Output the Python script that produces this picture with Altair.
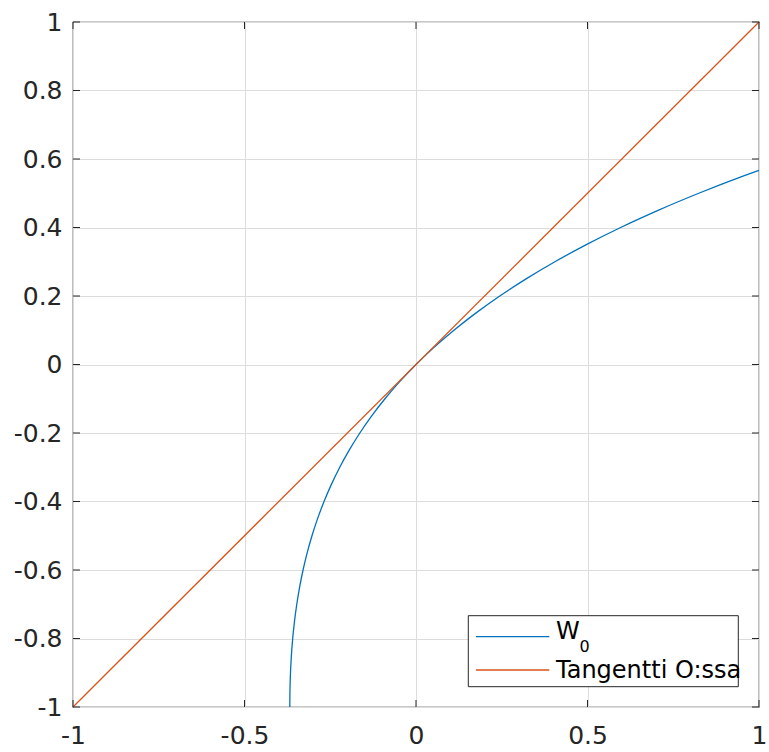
import altair as alt
import pandas as pd

# W0 branch of the Lambert W function
w_x = [-0.36788, -0.36786, -0.36771, -0.36740, -0.36664, -0.36591, -0.36330, -0.35946,
       -0.35427, -0.34761, -0.33933, -0.32929, -0.31732, -0.30327, -0.28693, -0.26813,
       -0.24664, -0.22225, -0.19470, -0.16375, -0.12911, -0.09048, -0.04756, 0.0,
       0.05256, 0.11052, 0.17427, 0.24428, 0.32101, 0.40496, 0.49667, 0.59673,
       0.70574, 0.82436, 0.95329, 1.0]
w_y = [-1.00, -0.99, -0.97, -0.95, -0.92, -0.90, -0.85, -0.80,
       -0.75, -0.70, -0.65, -0.60, -0.55, -0.50, -0.45, -0.40,
       -0.35, -0.30, -0.25, -0.20, -0.15, -0.10, -0.05, 0.0,
       0.05, 0.10, 0.15, 0.20, 0.25, 0.30, 0.35, 0.40,
       0.45, 0.50, 0.55, 0.5671]

# Tangent at origin
t_x = [-1.0, 1.0]
t_y = [-1.0, 1.0]

x_ticks = [-1, -0.5, 0, 0.5, 1]
y_ticks = [-1, -0.8, -0.6, -0.4, -0.2, 0, 0.2, 0.4, 0.6, 0.8, 1]

legend_labels = ["W", "Tangentti O:ssa"]
legend_sub = "0"

W = 686
H = 685
BLUE = "#0072BD"
ORANGE = "#D95319"
AX = "#262626"
FONT = "DejaVu Sans"

lbl = "datum.value == 0 ? '0' : (datum.value < 0 ? '-' : '') + format(abs(datum.value), '.1~f')"

xs = alt.Scale(domain=[-1, 1], nice=False, zero=False)
ys = alt.Scale(domain=[-1, 1], nice=False, zero=False)

xaxis = alt.Axis(values=x_ticks, title=None, ticks=False, domain=False, grid=True,
                 gridColor="#dcdcdc", labelFont=FONT, labelFontSize=25, labelColor=AX,
                 labelPadding=16, labelExpr=lbl, labelFlush=False, labelOverlap=False)
yaxis = alt.Axis(values=y_ticks, title=None, ticks=False, domain=False, grid=True,
                 gridColor="#dcdcdc", labelFont=FONT, labelFontSize=25, labelColor=AX,
                 labelPadding=11, labelExpr=lbl, labelFlush=False, labelOverlap=False)

wdf = pd.DataFrame({"x": w_x, "y": w_y})
tdf = pd.DataFrame({"x": t_x, "y": t_y})

base_axes = alt.Chart(pd.DataFrame({"x": x_ticks})).mark_rule(opacity=0).encode(
    x=alt.X("x:Q", scale=xs, axis=xaxis),
    y=alt.Y("y:Q", scale=ys, axis=yaxis),
).transform_calculate(y="0")

wline = alt.Chart(wdf).mark_line(color=BLUE, strokeWidth=1.3, interpolate="monotone").encode(
    x=alt.X("x:Q", scale=xs), y=alt.Y("y:Q", scale=ys), order="x:Q")
tline = alt.Chart(tdf).mark_line(color=ORANGE, strokeWidth=1.3).encode(
    x=alt.X("x:Q", scale=xs), y=alt.Y("y:Q", scale=ys))

xt = pd.DataFrame({"x": x_ticks})
yt = pd.DataFrame({"y": y_ticks})
tick_len = 7
xt_bot = alt.Chart(xt).mark_rule(color=AX, strokeWidth=1).encode(
    x=alt.X("x:Q", scale=xs), y=alt.value(H), y2=alt.value(H - tick_len))
xt_top = alt.Chart(xt).mark_rule(color=AX, strokeWidth=1).encode(
    x=alt.X("x:Q", scale=xs), y=alt.value(0), y2=alt.value(tick_len))
yt_left = alt.Chart(yt).mark_rule(color=AX, strokeWidth=1).encode(
    y=alt.Y("y:Q", scale=ys), x=alt.value(0), x2=alt.value(tick_len))
yt_right = alt.Chart(yt).mark_rule(color=AX, strokeWidth=1).encode(
    y=alt.Y("y:Q", scale=ys), x=alt.value(W), x2=alt.value(W - tick_len))

one = pd.DataFrame({"a": [0]})
leg_box = alt.Chart(one).mark_rect(fill="white", stroke=AX, strokeWidth=1).encode(
    x=alt.value(395.3), x2=alt.value(665.3), y=alt.value(593.7), y2=alt.value(664.7))
leg_l1 = alt.Chart(one).mark_rule(color=BLUE, strokeWidth=1.3).encode(
    x=alt.value(403), x2=alt.value(476.3), y=alt.value(614.7))
leg_l2 = alt.Chart(one).mark_rule(color=ORANGE, strokeWidth=1.3).encode(
    x=alt.value(403), x2=alt.value(476.3), y=alt.value(648))
leg_t1 = alt.Chart(one).mark_text(text=legend_labels[0], font=FONT, fontSize=24, color="black",
                                  align="left", baseline="alphabetic").encode(
    x=alt.value(483), y=alt.value(617))
leg_sub = alt.Chart(one).mark_text(text=legend_sub, font=FONT, fontSize=16, color="black",
                                   align="left", baseline="alphabetic").encode(
    x=alt.value(506.5), y=alt.value(630))
leg_t2 = alt.Chart(one).mark_text(text=legend_labels[1], font=FONT, fontSize=24, color="black",
                                  align="left", baseline="alphabetic").encode(
    x=alt.value(483), y=alt.value(656.3))

chart = alt.layer(
    base_axes, wline, tline, xt_bot, xt_top, yt_left, yt_right,
    leg_box, leg_l1, leg_l2, leg_t1, leg_sub, leg_t2
).properties(
    width=W, height=H,
    padding={"left": 73, "top": 22, "right": 10, "bottom": 45},
    autosize=alt.AutoSizeParams(type="none"),
    background="white",
).configure_view(stroke=AX, strokeWidth=1.2)

chart.save("out.html", embed_options={"renderer": "svg", "actions": False})
